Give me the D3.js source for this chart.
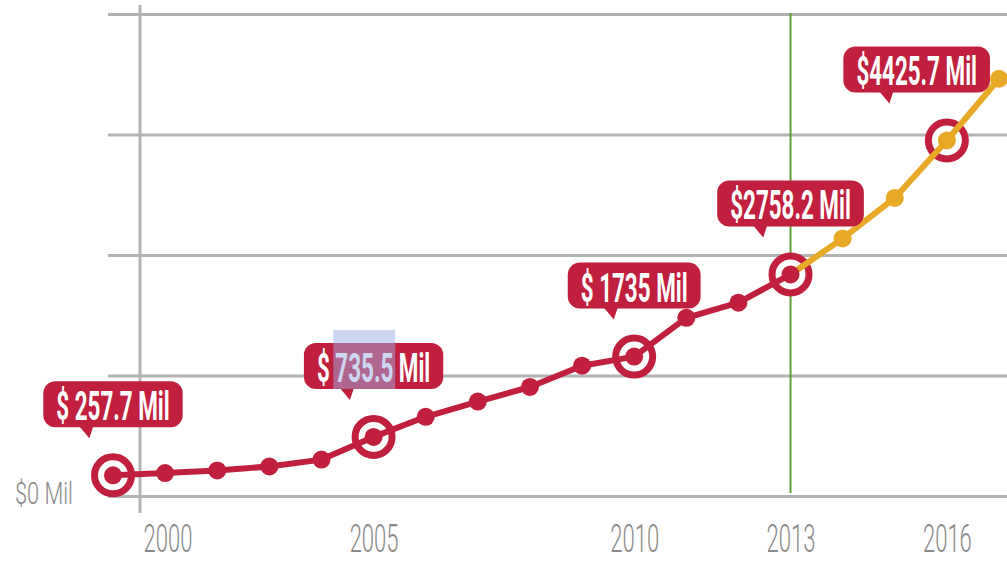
<!DOCTYPE html>
<html>
<head>
<meta charset="utf-8">
<script src="https://cdn.jsdelivr.net/npm/d3@7"></script>
<style>
  html, body { margin: 0; padding: 0; background: #fff; }
  svg { display: block; }
  text { white-space: pre; }
</style>
</head>
<body>
<svg id="chart" width="1007" height="562"></svg>
<script>
// Annual revenue in $ millions; from 2013 on the figures are projections
const years = [2000, 2001, 2002, 2003, 2004, 2005, 2006, 2007, 2008,
               2009, 2010, 2011, 2012, 2013, 2014, 2015, 2016, 2017];
const revenue = [257.7, 285, 318, 368, 453, 735.5, 986, 1175, 1357,
                 1622, 1735, 2218, 2407, 2758.2, 3206, 3710, 4425.7, 5194];
const projectionStart = 2013;

// Years that get a ringed marker and a value callout
const calloutYears = [2000, 2005, 2010, 2013, 2016];
const calloutPrefixes = ["$ ", "$ ", "$ ", "$", "$"];
const calloutSuffix = " Mil";
const selectedYear = 2005;

// Axis ticks
const yearTicks = [2000, 2005, 2010, 2013, 2016];
const gridValues = [0, 1500, 3000, 4500, 6000];
const zeroLabel = "$0 Mil";

const W = 1007, H = 562;
const RED = "#c01f3d", GOLD = "#e8a926", GREEN = "#5f9e30", GRID = "#b3b3b3", INK = "#8a8a8a";
const FONT = "Roboto, 'Liberation Sans Narrow', 'DejaVu Sans Condensed', sans-serif";
const axisX = 140;      // vertical axis rule
const gridLeft = 108;   // where horizontal gridlines start

const svg = d3.select("#chart");

const x = d3.scaleLinear().domain([2000, 2017]).range([113, 999]);
const y = d3.scaleLinear().domain([0, 6000]).range([496, 14]);

// Horizontal gridlines with the "$0 Mil" label
const ySx = 0.68;
const yAxis = svg.append("g")
  .attr("transform", `translate(${gridLeft},0)`)
  .call(d3.axisLeft(y)
    .tickValues(gridValues)
    .tickSize(-(W - gridLeft))
    .tickPadding(0)
    .tickFormat(d => d === 0 ? zeroLabel : ""));
yAxis.select(".domain").remove();
yAxis.selectAll(".tick line").attr("stroke", GRID).attr("stroke-width", 3);
yAxis.selectAll(".tick text")
  .attr("fill", INK)
  .attr("font-family", FONT)
  .attr("font-weight", 300)
  .attr("font-size", 32)
  .attr("text-anchor", "end")
  .attr("x", -35 / ySx)
  .attr("y", 7)
  .attr("dy", 0)
  .attr("transform", `scale(${ySx},1)`);

// Vertical axis rule
svg.append("line")
  .attr("x1", axisX).attr("x2", axisX)
  .attr("y1", 5).attr("y2", 513)
  .attr("stroke", GRID).attr("stroke-width", 3);

// Year labels along the bottom
const xSx = 0.58;
const xAxis = svg.append("g")
  .attr("transform", "translate(0,523)")
  .call(d3.axisBottom(x)
    .tickValues(yearTicks)
    .tickFormat(d3.format("d"))
    .tickSize(0)
    .tickPadding(0));
xAxis.select(".domain").remove();
xAxis.selectAll(".tick text")
  .attr("fill", INK)
  .attr("font-family", FONT)
  .attr("font-weight", 300)
  .attr("font-size", 38)
  .attr("y", 29)
  .attr("dy", 0)
  .attr("transform", `scale(${xSx},1)`)
  .each(function (d) {
    // keep labels to the right of the vertical axis rule
    const w = this.getComputedTextLength() * xSx;
    const left = x(d) - w / 2;
    const minLeft = axisX + 3;
    if (left < minLeft) d3.select(this).attr("x", (minLeft - left) / xSx);
  });

// Marker for the start of the projection
svg.append("line")
  .attr("x1", x(projectionStart)).attr("x2", x(projectionStart))
  .attr("y1", y(6000) - 1).attr("y2", y(0) - 3)
  .attr("stroke", GREEN).attr("stroke-width", 2);

const points = years.map((yr, i) => ({ year: yr, value: revenue[i] }));
const actual = points.filter(p => p.year <= projectionStart);
const projected = points.filter(p => p.year >= projectionStart);
const callouts = points.filter(p => calloutYears.includes(p.year));

// Rings around the called-out years
svg.append("g").selectAll("circle")
  .data(callouts)
  .join("circle")
  .attr("cx", d => x(d.year))
  .attr("cy", d => y(d.value))
  .attr("r", 18.5)
  .attr("fill", "#fff")
  .attr("stroke", RED)
  .attr("stroke-width", 7);

const line = d3.line().x(d => x(d.year)).y(d => y(d.value));

svg.append("path")
  .datum(actual)
  .attr("d", line)
  .attr("fill", "none")
  .attr("stroke", RED)
  .attr("stroke-width", 6)
  .attr("stroke-linejoin", "round")
  .attr("stroke-linecap", "round");

svg.append("path")
  .datum(projected)
  .attr("d", line)
  .attr("fill", "none")
  .attr("stroke", GOLD)
  .attr("stroke-width", 6)
  .attr("stroke-linejoin", "round")
  .attr("stroke-linecap", "round");

svg.append("g").selectAll("circle")
  .data(points)
  .join("circle")
  .attr("cx", d => x(d.year))
  .attr("cy", d => y(d.value))
  .attr("r", 9)
  .attr("fill", d => d.year <= projectionStart ? RED : GOLD);

// Value callouts
const cSx = 0.56, BH = 46, PAD = 13, TAIL = 11, GAP = 48;
callouts.forEach((p, i) => {
  const px = x(p.year), py = y(p.value);
  const prefix = calloutPrefixes[i];
  const numStr = String(p.value);
  const g = svg.append("g");
  const bubble = g.append("rect");
  const tail = g.append("path");
  const t = g.append("text")
    .attr("font-family", FONT)
    .attr("font-weight", 700)
    .attr("font-size", 40)
    .attr("fill", "#fff")
    .attr("text-anchor", "middle")
    .text(prefix + numStr + calloutSuffix);

  const w = t.node().getComputedTextLength() * cSx;
  const bw = w + 2 * PAD;
  let cx = Math.min(px, W - 17 - bw / 2);
  cx = Math.max(cx, bw / 2 + 5);
  const bottom = py - GAP, top = bottom - BH;
  const L = cx - bw / 2;

  bubble.attr("x", L).attr("y", top)
    .attr("width", bw).attr("height", BH)
    .attr("rx", 12)
    .attr("fill", RED);
  tail.attr("d", `M${L + 36},${bottom - 1} L${L + 50},${bottom - 1} L${L + 46},${bottom + TAIL} Z`)
    .attr("fill", RED);
  t.attr("transform", `translate(${cx},${bottom - 7}) scale(${cSx},1)`);

  if (p.year === selectedYear) {
    // selection highlight over the figure
    const node = t.node();
    const s = node.getStartPositionOfChar(prefix.length).x;
    const e = node.getEndPositionOfChar(prefix.length + numStr.length - 1).x;
    const x0 = cx + s * cSx - 2, x1 = cx + e * cSx + 2;
    g.append("rect")
      .attr("x", x0).attr("y", top - 13)
      .attr("width", x1 - x0).attr("height", bottom - top + 13)
      .attr("fill", "#9db0e6")
      .attr("opacity", 0.5);
  }
});
</script>
</body>
</html>
